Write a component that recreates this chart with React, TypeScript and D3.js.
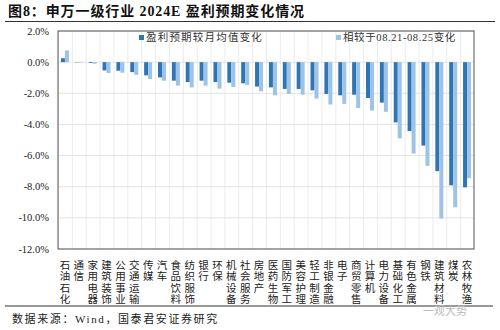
import React from "react";
import * as d3 from "d3";

const categories = ["石油石化","通信","家用电器","建筑装饰","公用事业","交通运输","传媒","汽车","食品饮料","纺织服饰","银行","环保","机械设备","社会服务","房地产","医药生物","国防军工","美容护理","轻工制造","非银金融","电子","商贸零售","计算机","电力设备","基础化工","有色金属","钢铁","建筑材料","煤炭","农林牧渔"];
const vsMonthAvg = [0.25,-0.02,-0.05,-0.53,-0.55,-0.64,-0.85,-0.98,-1.19,-1.28,-1.19,-1.28,-1.32,-1.36,-1.57,-1.62,-1.72,-1.72,-1.81,-2.04,-2.13,-2.09,-2.30,-2.60,-3.87,-4.43,-5.36,-7.00,-7.91,-8.04];
const vsWeek = [0.75,-0.03,-0.10,-0.70,-0.68,-0.81,-1.08,-1.19,-1.51,-1.62,-1.51,-1.70,-1.60,-1.47,-1.87,-2.13,-2.04,-2.09,-2.34,-2.72,-2.68,-2.94,-3.11,-3.19,-4.89,-5.87,-6.66,-10.04,-9.32,-7.45];
const yTicks = [2,0,-2,-4,-6,-8,-10,-12];
const seriesNames = ["盈利预期较月均值变化","相较于08.21-08.25变化"];

const DARK = "#2E75B6";
const LIGHT = "#9DC3E6";
const SERIF = "'Liberation Serif','Times New Roman','Noto Sans CJK SC',serif";

export default function App() {
  const W = 500, H = 330;
  const left = 58, right = 474, top = 31, bottom = 249;
  const x = d3.scaleBand<string>().domain(categories).range([left, right]).paddingInner(0).paddingOuter(0);
  const y = d3.scaleLinear().domain([-12, 2]).range([bottom, top]);
  const bw = 4;
  const bars: JSX.Element[] = [];
  categories.forEach((c, i) => {
    const cx = (x(c) as number) + x.bandwidth() / 2;
    const v1 = vsMonthAvg[i], v2 = vsWeek[i];
    bars.push(<rect key={"a"+i} x={cx - bw} width={bw} y={y(Math.max(0, v1))} height={Math.abs(y(v1) - y(0))} fill={DARK} />);
    bars.push(<rect key={"b"+i} x={cx} width={bw} y={y(Math.max(0, v2))} height={Math.abs(y(v2) - y(0))} fill={LIGHT} />);
  });
  return (
    <svg width={W} height={H} style={{ position: "absolute", left: 0, top: 0, background: "#fff" }}>
      <text x={8} y={16} fontFamily={SERIF} fontWeight="bold" fontSize={14} letterSpacing={0.9} fill="#111">图8：申万一级行业 2024E 盈利预期变化情况</text>
      <line x1={5} x2={495} y1={21.5} y2={21.5} stroke="#333" strokeWidth={1.2} />
      {categories.map((c, i) => (
        <line key={"v"+i} x1={(x(c) as number) + 0.5} x2={(x(c) as number) + 0.5} y1={top} y2={bottom} stroke="#ececec" strokeWidth={1} />
      ))}
      {yTicks.map(t => (
        <line key={"h"+t} x1={left} x2={right} y1={y(t)} y2={y(t)} stroke="#e2e2e2" strokeWidth={1} />
      ))}
      {bars}
      <rect x={left} y={top} width={right - left} height={bottom - top} fill="none" stroke="#555" strokeWidth={1} />
      {yTicks.map(t => (
        <text key={"t"+t} x={49} y={y(t) + 3.5} textAnchor="end" fontFamily={SERIF} fontSize={10.5} fill="#222">{t.toFixed(1) + "%"}</text>
      ))}
      <rect x={139} y={35} width={5} height={5} fill={DARK} />
      <text x={146} y={41} fontFamily={SERIF} fontSize={10.5} letterSpacing={1.2} fill="#333">{seriesNames[0]}</text>
      <rect x={336} y={35} width={5} height={5} fill={LIGHT} />
      <text x={343} y={41} fontFamily={SERIF} fontSize={10.5} letterSpacing={0.6} fill="#333">{seriesNames[1]}</text>
      {categories.map((c, i) => {
        const cx = (x(c) as number) + x.bandwidth() / 2;
        return (
          <text key={"c"+i} fontFamily={SERIF} fontSize={10.5} fill="#222" textAnchor="middle">
            {c.split("").map((ch, j) => (
              <tspan key={j} x={cx} y={269 + j * 11.3}>{ch}</tspan>
            ))}
          </text>
        );
      })}
      <line x1={5} x2={493} y1={306} y2={306} stroke="#333" strokeWidth={1} />
      <text x={12} y={323} fontFamily={SERIF} fontSize={11} letterSpacing={1.6} fill="#222">数据来源：Wind，国泰君安证券研究</text>
      <text x={445} y={315} fontFamily={SERIF} fontSize={11} fill="#bbb" textAnchor="middle">一观大势</text>
    </svg>
  );
}
